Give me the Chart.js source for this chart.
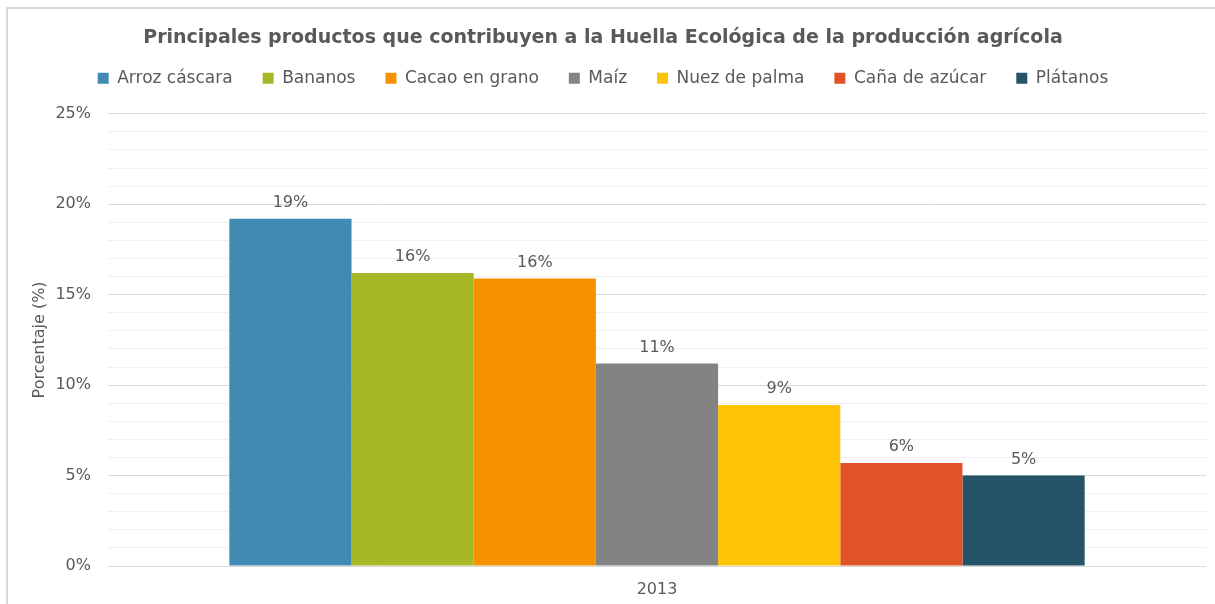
<!DOCTYPE html>
<html lang="es">
<head>
  <meta charset="UTF-8" />
  <title>Huella Ecológica - producción agrícola</title>
  <script src="https://cdn.jsdelivr.net/npm/chart.js"></script>
  <style>
    body { margin: 0; background: #fff; }
    .wrap { position: relative; width: 1215px; height: 604px; overflow: hidden; }
    .frame {
      position: absolute; left: 6px; top: 7px; right: -10px; bottom: -10px;
      border-left: 2px solid #d9d9d9; border-top: 2px solid #d9d9d9;
    }
    canvas { position: absolute; left: 0; top: 0; }
  </style>
</head>
<body>
  <div class="wrap">
    <div class="frame"></div>
    <canvas id="huella" width="1215" height="604"></canvas>
  </div>

  <script>
    const years = ['2013'];
    const productos = ['Arroz cáscara', 'Bananos', 'Cacao en grano', 'Maíz', 'Nuez de palma', 'Caña de azúcar', 'Plátanos'];
    const porcentajes = [19.2, 16.2, 15.9, 11.2, 8.9, 5.7, 5.0];
    const colores = ['#418ab3', '#a6b727', '#f69200', '#838383', '#fec306', '#df5327', '#255368'];

    const gris = '#595959';
    const fuente = "'DejaVu Sans', sans-serif";

    // etiqueta de porcentaje encima de cada barra
    const etiquetas = {
      id: 'etiquetas',
      afterDatasetsDraw(chart) {
        const ctx = chart.ctx;
        ctx.save();
        ctx.font = '16px ' + fuente;
        ctx.fillStyle = gris;
        ctx.textAlign = 'center';
        ctx.textBaseline = 'bottom';
        chart.data.datasets.forEach((ds, i) => {
          chart.getDatasetMeta(i).data.forEach((bar, j) => {
            ctx.fillText(Math.round(ds.data[j]) + '%', bar.x, bar.y - 8);
          });
        });
        ctx.restore();
      }
    };

    // deja algo más de aire entre la leyenda y el área del gráfico
    const espacioLeyenda = {
      id: 'espacioLeyenda',
      beforeInit(chart) {
        const legend = chart.legend;
        if (!legend) return;
        const fit = legend.fit;
        legend.fit = function () {
          fit.call(this);
          this.height += 17;
        };
      }
    };

    new Chart(document.getElementById('huella'), {
      type: 'bar',
      data: {
        labels: years,
        datasets: productos.map((p, i) => ({
          label: p,
          data: [porcentajes[i]],
          backgroundColor: colores[i],
          borderWidth: 0
        }))
      },
      options: {
        responsive: false,
        animation: false,
        datasets: { bar: { categoryPercentage: 0.779, barPercentage: 1 } },
        layout: { padding: { left: 0, right: 9, top: 0, bottom: 0 } },
        plugins: {
          tooltip: { enabled: false },
          title: {
            display: true,
            text: 'Principales productos que contribuyen a la Huella Ecológica de la producción agrícola',
            color: gris,
            font: { family: fuente, size: 19, weight: 'bold' },
            padding: { top: 27, bottom: -10 }
          },
          legend: {
            labels: {
              color: gris,
              font: { family: fuente, size: 17 },
              boxWidth: 11,
              boxHeight: 11,
              padding: 30
            }
          }
        },
        scales: {
          x: {
            afterFit(scale) { scale.height = 38; },
            grid: { display: false, drawTicks: false },
            border: { display: false },
            ticks: { color: gris, font: { family: fuente, size: 16 }, padding: 14 }
          },
          y: {
            min: 0,
            max: 25,
            afterFit(scale) { scale.width = 108; },
            border: { display: false },
            grid: {
              drawTicks: false,
              color: c => c.tick.value % 5 === 0 ? '#d9d9d9' : '#f0f0f0',
              lineWidth: 1
            },
            ticks: {
              stepSize: 1,
              autoSkip: false,
              maxTicksLimit: 30,
              padding: 17,
              color: gris,
              font: { family: fuente, size: 16 },
              callback: v => v % 5 === 0 ? v + '%' : ''
            },
            title: {
              display: true,
              text: 'Porcentaje (%)',
              color: gris,
              font: { family: fuente, size: 16 },
              padding: { top: 30, bottom: 0 }
            }
          }
        }
      },
      plugins: [espacioLeyenda, etiquetas]
    });
  </script>
</body>
</html>
